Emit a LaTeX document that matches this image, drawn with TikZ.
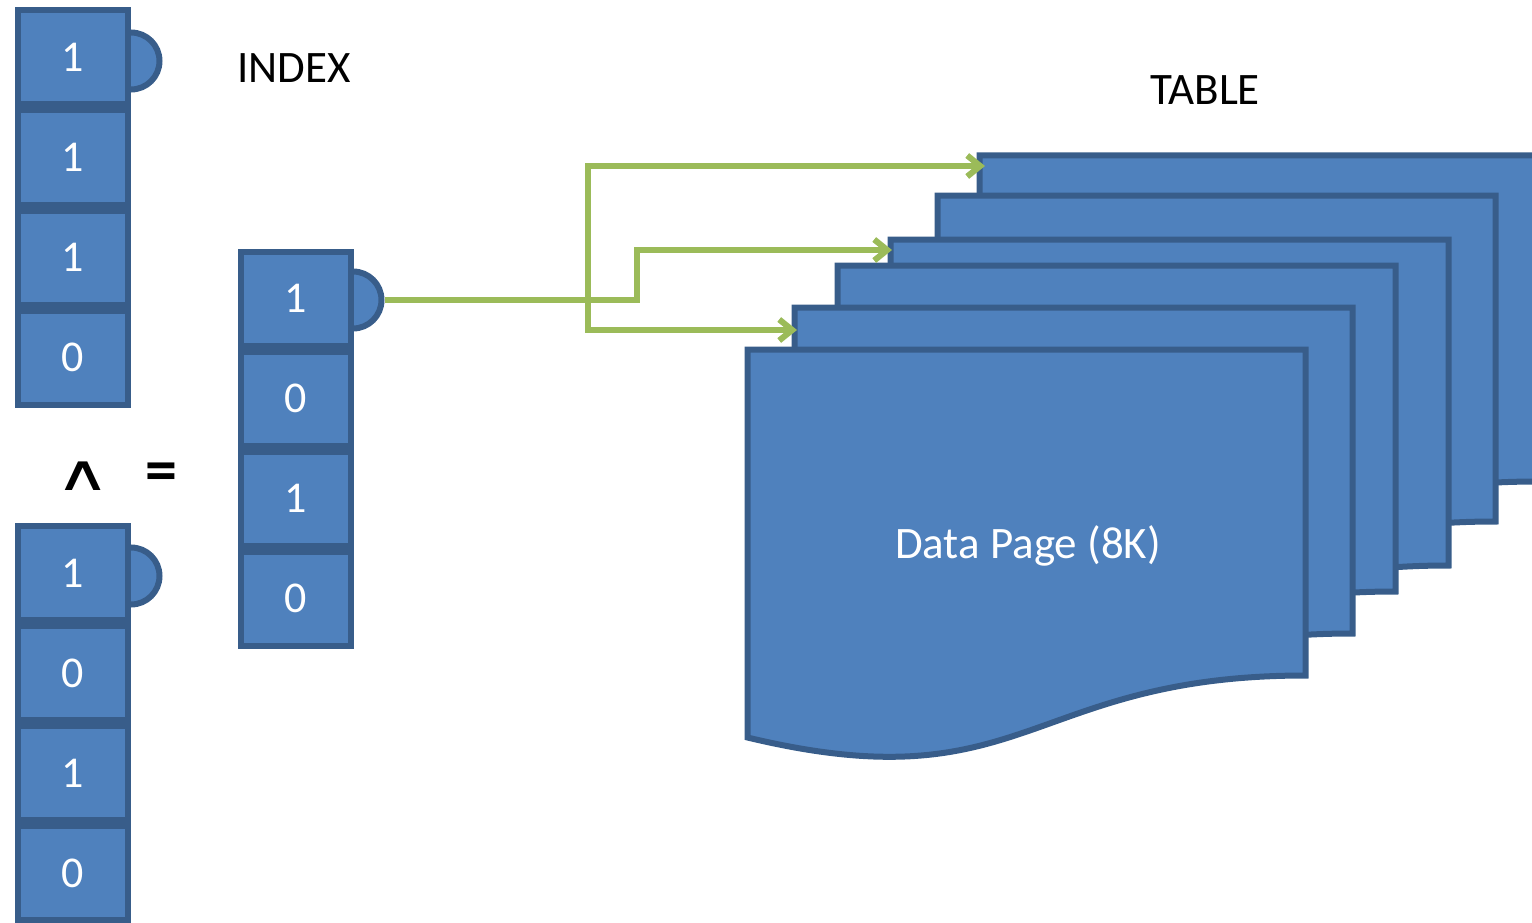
\documentclass[tikz,border=0pt]{standalone}
\usepackage{fontspec}
\setmainfont{Carlito}
\newfontfamily\symfont{DejaVu Sans}
\usetikzlibrary{arrows.meta}
\definecolor{pagefill}{RGB}{79,129,189}
\definecolor{pageline}{RGB}{56,93,138}
\definecolor{flowgreen}{RGB}{155,187,89}
\newcommand\drawdocpage[3]{%
  \pgfmathsetmacro\pgR{#1+558}%
  \pgfmathsetmacro\pgM{#1+279}%
  \pgfmathsetmacro\pgBR{#2+326}%
  \pgfmathsetmacro\pgBL{#2+388}%
  \pgfmathsetmacro\pgC{#2+455}%
  \path[docpage] (#1,#2) -- (\pgR,#2) -- (\pgR,\pgBR) .. controls (\pgM,\pgBR) and (\pgM,\pgC) .. (#1,\pgBL) -- cycle;
  \coordinate (#3) at (#1,#2);
}
\begin{document}
\begin{tikzpicture}[x=1pt,y=-1pt,
  cell/.style={draw=pageline, fill=pagefill, line width=6pt, minimum width=110pt, minimum height=94pt, inner sep=0pt, text=white, font=\fontsize{44}{48}\selectfont},
  knob/.style={circle, draw=pageline, fill=pagefill, line width=6pt, minimum size=57pt, inner sep=0pt},
  docpage/.style={draw=pageline, fill=pagefill, line width=6pt},
  flow/.style={draw=flowgreen, line width=6pt, -{Straight Barb[length=13pt,width=21pt]}},
  titletext/.style={font=\fontsize{45}{50}\selectfont, inner sep=0pt}
]
\useasboundingbox (0,0) rectangle (1532,923);
\clip (0,0) rectangle (1532,923);

% knobs (drawn first, half hidden by cells)
\node[knob] (k1) at (131,61) {};
\node[knob] (k2) at (131,576) {};
\node[knob] (k3) at (353,300) {};

% bitmap 1
\node[cell] (a1) at (73,57.5) {1};
\node[cell] (a2) at (73,157.5) {1};
\node[cell] (a3) at (73,257.5) {1};
\node[cell] (a4) at (73,357.5) {0};
% bitmap 2
\node[cell] (b1) at (73,573) {1};
\node[cell] (b2) at (73,673) {0};
\node[cell] (b3) at (73,773) {1};
\node[cell] (b4) at (73,873) {0};
% result bitmap
\node[cell] (c1) at (295.5,298.5) {1};
\node[cell] (c2) at (295.5,398.5) {0};
\node[cell] (c3) at (295.5,498.5) {1};
\node[cell] (c4) at (295.5,598.5) {0};

% operators and titles
\node[font=\symfont\fontsize{52}{58}\selectfont, inner sep=0pt] (andop) at (83,476) {\scalebox{1.45}[0.95]{∧}};
\node[font=\bfseries\fontsize{64}{68}\selectfont, inner sep=0pt] (eqop) at (161,477) {=};
\node[titletext] (idx) at (294,68) {INDEX};
\node[titletext] (tbl) at (1205,90) {TABLE};

% data pages, back to front
\drawdocpage{979.5}{155.5}{pageF}
\drawdocpage{937.5}{195.5}{pageE}
\drawdocpage{890.5}{239.5}{pageD}
\drawdocpage{837.5}{265.5}{pageC}
\drawdocpage{794.5}{307.5}{pageB}
\drawdocpage{747.5}{349.5}{pageA}
\node[titletext, text=white] (dp) at (1028,546) {Data Page (8K)};

% pointers
\coordinate (hitF) at (985,166);
\coordinate (hitD) at (892,250);
\coordinate (hitB) at (797,330);
\coordinate (split) at (588,300);
\draw[flow] (k3.east) -- (637,300) |- (hitD);
\draw[flow] (split) |- (hitF);
\draw[flow] (split) |- (hitB);
\end{tikzpicture}
\end{document}
